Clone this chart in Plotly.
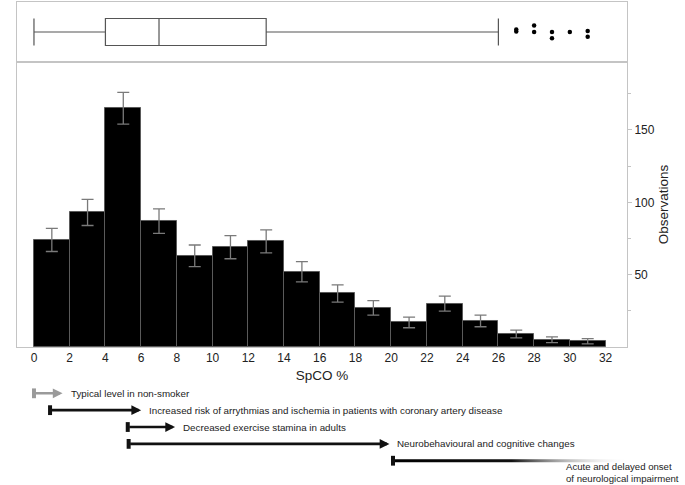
import plotly.graph_objects as go

# SpCO histogram, 2% wide bins
bin_centres = [1, 3, 5, 7, 9, 11, 13, 15, 17, 19, 21, 23, 25, 27, 29, 31]
observations = [74, 93, 165, 87, 63, 69, 73, 52, 37, 27, 17, 30, 18, 9, 5, 4]
obs_error = [8, 9, 11, 8.5, 7.5, 8, 8, 7, 6, 5, 3.7, 5.2, 4, 2.7, 2, 1.8]
x_ticks = [0, 2, 4, 6, 8, 10, 12, 14, 16, 18, 20, 22, 24, 26, 28, 30, 32]

# box plot summary
box_low, box_q1, box_median, box_q3, box_high = 0, 4, 7, 13, 26
outliers = [27, 27, 28, 28, 29, 29, 30, 31, 31]
outlier_jitter = [0.08, 0.02, 0.22, 0, 0, -0.21, 0, 0.03, -0.16]

# clinical effects ranges (SpCO %)
effect_labels = [
    "Typical level in non-smoker",
    "Increased risk of arrythmias and ischemia in patients with coronary artery disease",
    "Decreased exercise stamina in adults",
    "Neurobehavioural and cognitive changes",
    "Acute and delayed onset<br>of neurological impairment",
]
effect_from = [0, 0.9, 5.25, 5.3, 20.1]
effect_to = [1.6, 6, 7.9, 19.9, 33.4]
effect_colors = ["#9a9a9a", "#111111", "#111111", "#111111", "#111111"]

FONT = "Liberation Sans, Arial, sans-serif"
AXIS_GREY = "#c4c4c4"
XRANGE = [-0.95, 33.2]

fig = go.Figure()

fig.add_trace(go.Bar(
    x=bin_centres, y=observations, width=2,
    marker=dict(color="black", line=dict(color="#5a5a5a", width=1)),
    error_y=dict(type="data", array=obs_error, color="#7a7a7a", thickness=1.3, width=6),
    xaxis="x", yaxis="y", showlegend=False,
))

fig.add_trace(go.Box(
    y=[0], q1=[box_q1], median=[box_median], q3=[box_q3],
    lowerfence=[box_low], upperfence=[box_high],
    orientation="h", width=0.9, whiskerwidth=1,
    fillcolor="white", line=dict(color="#555555", width=1.2),
    boxpoints=False, xaxis="x2", yaxis="y2", showlegend=False,
))

fig.add_trace(go.Scatter(
    x=outliers, y=outlier_jitter, mode="markers",
    marker=dict(color="black", size=4.5),
    xaxis="x2", yaxis="y2", showlegend=False,
))

annotations = []
for i, (lab, a, b, col) in enumerate(zip(effect_labels, effect_from, effect_to, effect_colors)):
    if i < len(effect_labels) - 1:
        annotations.append(dict(
            x=b, y=i, ax=a, ay=i, xref="x3", yref="y3", axref="x3", ayref="y3",
            text="", showarrow=True, arrowhead=2, arrowsize=0.75,
            arrowwidth=2.6, arrowcolor=col,
        ))
        annotations.append(dict(
            x=b, y=i, xref="x3", yref="y3", text=lab, showarrow=False,
            xanchor="left", yanchor="middle", xshift=6,
            font=dict(family=FONT, size=9.8, color="#222"),
        ))
    else:
        # fading bar for the open-ended range
        fig.add_trace(go.Scatter(
            x=[a, b, b, a, a], y=[i - 0.09, i - 0.09, i + 0.09, i + 0.09, i - 0.09],
            mode="lines", line=dict(width=0), fill="toself",
            fillgradient=dict(type="horizontal",
                              colorscale=[[0, "#000"], [0.5, "#111"], [1, "rgba(255,255,255,0)"]]),
            xaxis="x3", yaxis="y3", showlegend=False, hoverinfo="skip",
        ))
        annotations.append(dict(
            x=29.7, y=i + 0.72, xref="x3", yref="y3", text=lab, showarrow=False,
            xanchor="left", yanchor="middle", align="left",
            font=dict(family=FONT, size=9.6, color="#222"),
        ))
    fig.add_trace(go.Scatter(
        x=[a], y=[i], mode="markers",
        marker=dict(symbol="line-ns", size=7, line=dict(color=col, width=4)),
        xaxis="x3", yaxis="y3", showlegend=False,
    ))

fig.update_layout(
    width=685, height=485,
    margin=dict(l=17, r=58, t=2, b=0),
    paper_bgcolor="white", plot_bgcolor="white",
    font=dict(family=FONT, color="#222"),
    bargap=0,
    annotations=annotations,
    xaxis=dict(
        domain=[0, 1], anchor="y", range=XRANGE, tickvals=x_ticks,
        showline=True, linecolor=AXIS_GREY, mirror=True, ticks="",
        showgrid=False, zeroline=False, tickfont=dict(size=12),
        title=dict(text="SpCO %", font=dict(size=13.5), standoff=6),
    ),
    yaxis=dict(
        domain=[0.2857, 0.8758], anchor="x", range=[0, 197], side="right",
        tickvals=[50, 100, 150], ticks="outside", ticklen=4, tickcolor=AXIS_GREY,
        minor=dict(tickvals=[25, 75, 125, 175], ticks="outside", ticklen=3, tickcolor=AXIS_GREY),
        showline=True, linecolor=AXIS_GREY, mirror=True,
        showgrid=False, zeroline=False, tickfont=dict(size=12),
        title=dict(text="Observations", font=dict(size=13.5), standoff=4),
    ),
    xaxis2=dict(
        domain=[0, 1], anchor="y2", matches="x", showticklabels=False, ticks="",
        showline=True, linecolor=AXIS_GREY, mirror=True, showgrid=False, zeroline=False,
    ),
    yaxis2=dict(
        domain=[0.8758, 1], anchor="x2", range=[-1, 1], showticklabels=False, ticks="",
        showline=True, linecolor=AXIS_GREY, mirror=True, showgrid=False, zeroline=False,
    ),
    xaxis3=dict(domain=[0, 1], anchor="y3", matches="x", visible=False),
    yaxis3=dict(domain=[0, 0.2174], anchor="x3", range=[5.44, -0.79], visible=False),
)

# drop the default page margin so the figure sits flush in the window
fig.write_html("out.html", config={"displayModeBar": False},
               post_script="document.body.style.margin='0';")
